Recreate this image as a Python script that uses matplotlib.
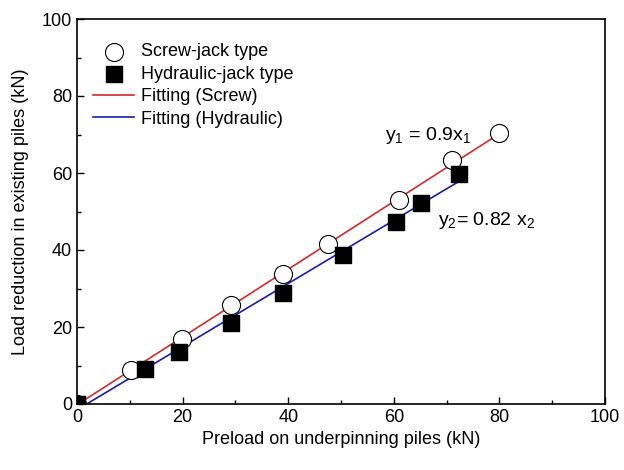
import numpy as np
import matplotlib
matplotlib.use('Agg')
import matplotlib.pyplot as plt
from matplotlib.patches import Rectangle
from matplotlib.ticker import MultipleLocator

plt.rcParams['font.family'] = ['Liberation Sans', 'DejaVu Sans']
plt.rcParams['mathtext.fontset'] = 'custom'
plt.rcParams['mathtext.rm'] = 'Liberation Sans'
plt.rcParams['mathtext.it'] = 'Liberation Sans'

# data
screw_x = [0, 10.2, 19.8, 29.1, 39.0, 47.6, 60.9, 71.0, 80.0]
screw_y = [0, 8.8, 16.8, 25.7, 33.8, 41.6, 53.0, 63.4, 70.3]
hyd_x = [0, 12.8, 19.4, 29.1, 39.0, 50.3, 60.4, 65.2, 72.4]
hyd_y = [0, 9.0, 13.6, 21.0, 28.8, 38.7, 47.3, 52.3, 59.7]

# fitted lines (slope, intercept, x range)
fit_screw = (0.88, -0.2, 0, 80)
fit_hyd = (0.82, -1.5, 0, 72.4)

fig = plt.figure(figsize=(6.24, 4.70), dpi=100)
ax = fig.add_axes([77/624, 1 - 404/470, (605-77)/624, (404-19)/470])

sc1 = ax.scatter(screw_x, screw_y, marker='o', facecolors='white', edgecolors='black',
                 linewidths=0.8, s=13**2, label='Screw-jack type', zorder=3)
sc2 = ax.scatter(hyd_x, hyd_y, marker='s', color='black', s=11**2,
                 label='Hydraulic-jack type', zorder=4)
# points at the origin should be cut by the frame
for sc in (sc1, sc2):
    sc.set_clip_path(Rectangle((0, 0), 1, 1, transform=ax.transAxes))

xs = np.array(fit_screw[2:])
ax.plot(xs, fit_screw[0]*xs + fit_screw[1], color='#d42a2a', lw=1.2,
        label='Fitting (Screw)', zorder=2)
xh = np.array(fit_hyd[2:])
ax.plot(xh, fit_hyd[0]*xh + fit_hyd[1], color='#1c1caa', lw=1.2,
        label='Fitting (Hydraulic)', zorder=2)

ax.set_xlim(0, 100)
ax.set_ylim(0, 100)
ax.xaxis.set_major_locator(MultipleLocator(20))
ax.yaxis.set_major_locator(MultipleLocator(20))
ax.xaxis.set_minor_locator(MultipleLocator(10))
ax.yaxis.set_minor_locator(MultipleLocator(10))
ax.tick_params(which='both', direction='in', top=False, right=False,
               labelsize=13, width=1)
ax.tick_params(which='major', length=5)
ax.tick_params(which='minor', length=3)
for s in ax.spines.values():
    s.set_linewidth(1.2)

ax.set_xlabel('Preload on underpinning piles (kN)', fontsize=13, labelpad=4)
ax.set_ylabel('Load reduction in existing piles (kN)', fontsize=13, labelpad=9)

ax.text(58.3, 68.6, r'y$_1$ = 0.9x$_1$', fontsize=14, va='baseline')
ax.text(68.4, 46.5, r'y$_2$= 0.82 x$_2$', fontsize=14, va='baseline')

ax.legend(loc='upper left', bbox_to_anchor=(0.03, 0.937), frameon=False,
          fontsize=13, handlelength=2.3, handletextpad=0.37, scatterpoints=1,
          labelspacing=0.3, borderaxespad=0, borderpad=0)

fig.savefig('out.png', dpi=100)
